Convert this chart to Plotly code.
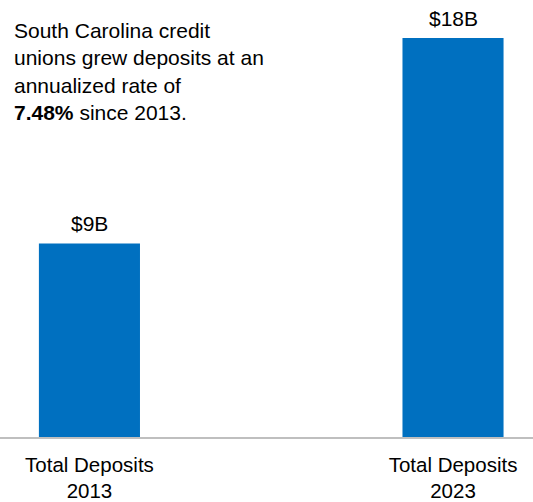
import plotly.graph_objects as go

categories = ["Total Deposits<br>2013", "Total Deposits<br>2023"]
deposits = [8.73, 18.0]
bar_labels = ["$9B", "$18B"]
note = "South Carolina credit<br>unions grew deposits at an<br>annualized rate of<br><b>7.48%</b> since 2013."

FONT = "Liberation Sans, Arial, sans-serif"

fig = go.Figure(go.Bar(
    x=[0, 1], y=deposits, width=0.278,
    marker=dict(color="#0070C0", line=dict(width=0)),
    hoverinfo="skip",
))

for i, (v, t) in enumerate(zip(deposits, bar_labels)):
    fig.add_annotation(x=i, y=v, text=t, showarrow=False, xref="x", yref="y",
                       yanchor="bottom", yshift=6,
                       font=dict(family=FONT, size=21, color="#000000"))

fig.add_annotation(x=12/533, y=1 - 17/437, xref="paper", yref="paper",
                   xanchor="left", yanchor="top", align="left", showarrow=False,
                   text=note, font=dict(family=FONT, size=21, color="#000000"))

fig.update_layout(
    width=533, height=502,
    margin=dict(l=0, r=0, t=0, b=65, autoexpand=False),
    paper_bgcolor="white", plot_bgcolor="white",
    showlegend=False,
    font=dict(family=FONT, size=20, color="#000000"),
    xaxis=dict(
        range=[-0.246, 1.22], tickmode="array", tickvals=[0, 1], ticktext=categories,
        showline=True, linecolor="#BFBFBF", linewidth=2, showgrid=False, zeroline=False,
        ticks="", tickfont=dict(family=FONT, size=20.5, color="#000000"),
        ticklabelstandoff=8, automargin=False, fixedrange=True,
    ),
    yaxis=dict(range=[0, 19.71], visible=False, showgrid=False, zeroline=False, fixedrange=True),
)

fig.write_html("out.html", config={"displayModeBar": False},
               post_script="document.body.style.margin='0';document.body.style.overflow='hidden';")
